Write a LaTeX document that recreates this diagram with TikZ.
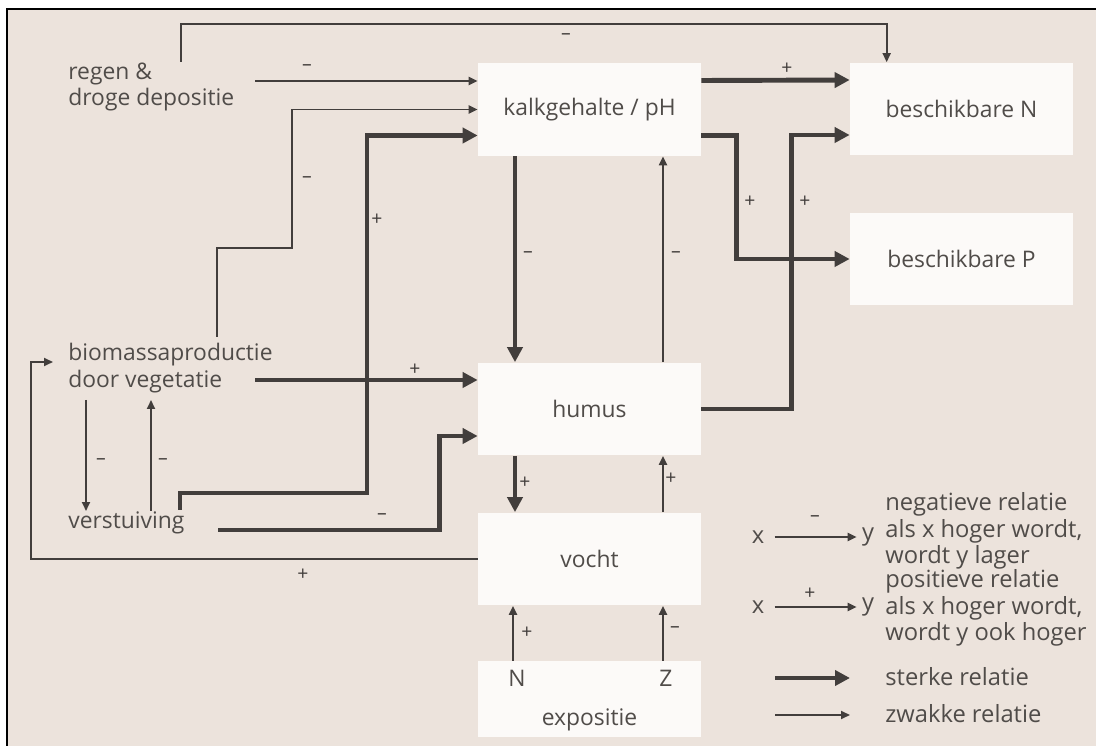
\documentclass[tikz,border=0pt]{standalone}
\usepackage{fontspec}
\setmainfont{Open Sans}
\usetikzlibrary{arrows.meta, positioning, calc}
\definecolor{paper}{RGB}{236, 227, 220}
\definecolor{boxwhite}{RGB}{252, 250, 248}
\definecolor{inkgray}{RGB}{66, 62, 60}
\definecolor{textgray}{RGB}{80, 76, 73}

\begin{document}
\begin{tikzpicture}[
    x=0.02cm, y=-0.02cm,
    box/.style={rectangle, fill=boxwhite, minimum width=4.46cm, minimum height=1.86cm, inner sep=0pt, font=\fontsize{13}{15.2}\selectfont, text=textgray},
    lbl/.style={anchor=west, align=left, inner sep=0pt, font=\fontsize{13}{15.2}\selectfont, text=textgray},
    legtxt/.style={lbl, font=\fontsize{13.5}{15.1}\selectfont},
    sign/.style={inner sep=0pt, font=\fontsize{11}{11}\selectfont, text=inkgray},
    strongarrow/.style={-{Triangle[length=0.3cm, width=0.3cm]}, line width=2.8pt, color=inkgray},
    weakarrow/.style={-{Triangle[length=0.18cm, width=0.16cm]}, line width=1.1pt, color=inkgray},
]

% Paper and frame
\useasboundingbox (0,0) rectangle (1096,746);
\fill[white] (0,0) rectangle (1096,746);
\fill[paper] (7,9) rectangle (1096,746);
\draw[black, line width=1.2pt] (7,746) -- (7,9) -- (1096,9);

% Boxes
\node[box] (kalk) at (589.5,109.5) {kalkgehalte / pH};
\node[box] (bnN) at (961.5,109) {beschikbare N};
\node[box] (bnP) at (961.5,259) {beschikbare P};
\node[box] (humus) at (589.5,409) {humus};
\node[box] (vocht) at (589.5,559) {vocht};
\node[box, minimum height=1.52cm] (expo) at (589.5,699) {};
\node[lbl, anchor=center] (expotxt) at (589.5,720) {expositie};
\node[lbl, anchor=center] (north) at (517,678) {N};
\node[lbl, anchor=center] (south) at (666,678) {Z};

% Free factors
\node[lbl] (regen) at (68,87) {regen \&\\droge depositie};
\node[lbl] (bio) at (68,368) {biomassaproductie\\door vegetatie};
\node[lbl] (verst) at (68,523) {verstuiving};

\coordinate (regentop) at (181,62);
\coordinate (regenout) at (255,81);
\coordinate (bioout) at (217,337);
\coordinate (bioright) at (255,380);
\coordinate (bioin) at (53,362);
\coordinate (biodown) at (86,400);
\coordinate (bioup) at (151,400);
\coordinate (verstup) at (180,510);
\coordinate (verstout) at (218,530);
\coordinate (verstdown) at (86,511);
\coordinate (verstrise) at (151,511);

% Connectors into kalkgehalte / pH
\draw[weakarrow] (regentop) -- ++(0,-38) -| ($(bnN.north west)+(37,0)$);
\draw[weakarrow] (regenout) -- (regenout -| kalk.west);
\draw[weakarrow] (bioout) |- ++(75,-89) |- (kalk.west);
\draw[strongarrow] (verstup) |- ++(187,-17) |- ($(kalk.west)+(0,26)$);

% Connectors into humus
\draw[strongarrow] (bioright) -- (bioright -| humus.west);
\draw[strongarrow] (verstout) -| ($(humus.west)+(-38,27)$) -- ($(humus.west)+(0,27)$);

% Vertical column
\draw[strongarrow] ($(kalk.south)+(-74.5,0)$) -- ($(humus.north)+(-74.5,0)$);
\draw[weakarrow] ($(humus.north)+(73.5,0)$) -- ($(kalk.south)+(73.5,0)$);
\draw[strongarrow] ($(humus.south)+(-74.5,0)$) -- ($(vocht.north)+(-74.5,0)$);
\draw[weakarrow] ($(vocht.north)+(73.5,0)$) -- ($(humus.south)+(73.5,0)$);
\draw[weakarrow] ($(expo.north)+(-76.5,0)$) -- ($(vocht.south)+(-76.5,0)$);
\draw[weakarrow] ($(expo.north)+(73.5,0)$) -- ($(vocht.south)+(73.5,0)$);

% Nutrients
\draw[strongarrow] ($(kalk.east)+(0,-29)$) -- ($(bnN.west)+(0,-29)$);
\draw[strongarrow] ($(kalk.east)+(0,26)$) -| ($(bnP.west)+(-113,0)$) -- (bnP.west);
\draw[strongarrow] (humus.east) -| ($(bnN.west)+(-58,26)$) -- ($(bnN.west)+(0,26)$);

% Vegetation loop
\draw[weakarrow] (vocht.west) -| ($(bioin)+(-22,0)$) -- (bioin);
\draw[weakarrow] (biodown) -- (verstdown);
\draw[weakarrow] (verstrise) -- (bioup);

% Signs
\node[sign] (s1) at (566,37) {--};
\node[sign] (s2) at (307,68) {--};
\node[sign] (s3) at (307,180) {--};
\node[sign] (s4) at (377,220) {+};
\node[sign] (s5) at (528,255) {--};
\node[sign] (s6) at (676,255) {--};
\node[sign] (s7) at (787,69) {+};
\node[sign] (s8) at (750,202) {+};
\node[sign] (s9) at (805,202) {+};
\node[sign] (s10) at (415,370) {+};
\node[sign] (s11) at (382,517) {--};
\node[sign] (s12) at (303,575) {+};
\node[sign] (s13) at (101,462) {--};
\node[sign] (s14) at (163,462) {--};
\node[sign] (s15) at (525,483) {+};
\node[sign] (s16) at (671,479) {+};
\node[sign] (s17) at (527,633) {+};
\node[sign] (s18) at (675,630) {--};

% Legend
\node[legtxt, anchor=center] (lx1) at (758,537) {x};
\node[legtxt, anchor=center] (ly1) at (868,537) {y};
\draw[weakarrow] ([xshift=0.2cm]lx1.east) -- ([xshift=-0.1cm]ly1.west);
\node[sign] (ls1) at (815,519) {--};
\node[legtxt] (negtxt) at (885,531) {negatieve relatie\\als x hoger wordt,\\wordt y lager};

\node[legtxt, anchor=center] (lx2) at (758,607) {x};
\node[legtxt, anchor=center] (ly2) at (868,607) {y};
\draw[weakarrow] ([xshift=0.2cm]lx2.east) -- ([xshift=-0.1cm]ly2.west);
\node[sign] (ls2) at (810,594) {+};
\node[legtxt] (postxt) at (885,608) {positieve relatie\\als x hoger wordt,\\wordt y ook hoger};

\node[legtxt] (strongtxt) at (885,677) {sterke relatie};
\draw[strongarrow] ($(strongtxt.west)+(-110,1)$) -- ($(strongtxt.west)+(-35,1)$);
\node[legtxt] (weaktxt) at (885,714) {zwakke relatie};
\draw[weakarrow] ($(weaktxt.west)+(-110,1)$) -- ($(weaktxt.west)+(-35,1)$);

\end{tikzpicture}
\end{document}
